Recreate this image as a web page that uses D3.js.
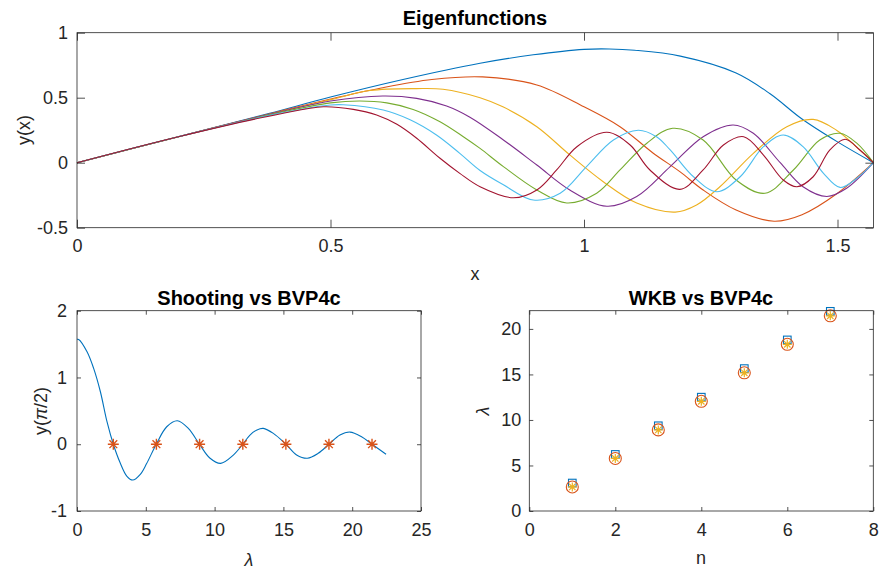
<!DOCTYPE html>
<html>
<head>
<meta charset="utf-8">
<script src="https://cdn.jsdelivr.net/npm/d3@7"></script>
<style>
  body { margin: 0; background: #fff; }
  text { font-family: "Liberation Sans", Arial, Helvetica, sans-serif; fill: #262626; }
</style>
</head>
<body>
<div id="svgBody"></div>
<script>
// eigenfunctions y(x) as [x, y]
var mode1 = [[0,0],[0.2,0.2],[0.38,0.38],[0.5,0.505],[0.643,0.64],[0.795,0.765],[0.9,0.83],[1.0,0.872],[1.05,0.875],[1.1,0.865],[1.19,0.82],[1.3,0.69],[1.367,0.53],[1.43,0.336],[1.5,0.16],[1.5708,0]];
var mode2 = [[0,0],[0.2,0.2],[0.4,0.395],[0.5,0.49],[0.6,0.575],[0.7,0.64],[0.8,0.66],[0.907,0.598],[1.0,0.43],[1.071,0.277],[1.136,0.075],[1.189,-0.069],[1.235,-0.21],[1.3,-0.364],[1.375,-0.45],[1.43,-0.4],[1.5,-0.235],[1.5708,0]];
var mode3 = [[0,0],[0.2,0.2],[0.4,0.39],[0.5,0.485],[0.578,0.555],[0.67,0.57],[0.722,0.565],[0.795,0.5],[0.84,0.43],[0.907,0.277],[0.972,0.06],[1.038,-0.146],[1.104,-0.31],[1.18,-0.38],[1.222,-0.325],[1.268,-0.185],[1.334,0.072],[1.4,0.277],[1.452,0.333],[1.498,0.25],[1.538,0.12],[1.5708,0]];
var mode4 = [[0,0],[0.2,0.2],[0.4,0.39],[0.5,0.475],[0.603,0.513],[0.67,0.495],[0.729,0.436],[0.775,0.35],[0.841,0.175],[0.907,-0.018],[0.972,-0.21],[1.045,-0.335],[1.104,-0.26],[1.17,-0.03],[1.235,0.2],[1.294,0.29],[1.334,0.226],[1.387,0.0],[1.432,-0.185],[1.479,-0.26],[1.518,-0.197],[1.5708,0]];
var mode5 = [[0,0],[0.2,0.2],[0.4,0.385],[0.5,0.46],[0.558,0.475],[0.611,0.46],[0.663,0.41],[0.716,0.315],[0.762,0.2],[0.795,0.11],[0.841,-0.03],[0.907,-0.21],[0.966,-0.31],[1.025,-0.235],[1.071,-0.056],[1.124,0.15],[1.175,0.265],[1.235,0.175],[1.3,-0.133],[1.357,-0.235],[1.413,-0.056],[1.465,0.175],[1.505,0.226],[1.538,0.15],[1.5708,0]];
var mode6 = [[0,0],[0.2,0.2],[0.4,0.38],[0.5,0.444],[0.525,0.446],[0.604,0.405],[0.657,0.33],[0.709,0.213],[0.755,0.072],[0.795,-0.06],[0.841,-0.17],[0.9,-0.287],[0.953,-0.235],[1.005,-0.03],[1.058,0.175],[1.107,0.25],[1.143,0.2],[1.17,0.098],[1.216,-0.108],[1.262,-0.223],[1.308,-0.108],[1.354,0.123],[1.393,0.213],[1.432,0.123],[1.472,-0.08],[1.505,-0.19],[1.538,-0.12],[1.5708,0]];
var mode7 = [[0,0],[0.2,0.2],[0.4,0.375],[0.486,0.43],[0.545,0.41],[0.591,0.367],[0.631,0.295],[0.67,0.188],[0.716,0.034],[0.755,-0.082],[0.795,-0.185],[0.861,-0.27],[0.907,-0.21],[0.946,-0.056],[0.986,0.123],[1.045,0.234],[1.091,0.136],[1.13,-0.056],[1.189,-0.205],[1.235,-0.056],[1.275,0.136],[1.315,0.2],[1.354,0.059],[1.393,-0.133],[1.42,-0.185],[1.452,-0.108],[1.485,0.098],[1.515,0.18],[1.544,0.098],[1.5708,0]];

// shooting residual y(pi/2) against lambda
var shooting = [[0,1.571],[0.12,1.57],[0.73,1.385],[1.21,1.136],[1.7,0.786],[2.18,0.337],[2.64,0],[3.12,-0.27],[3.63,-0.48],[4.05,-0.536],[4.6,-0.45],[5.06,-0.29],[5.76,0],[6.52,0.262],[7.29,0.352],[8.09,0.238],[8.9,0],[9.67,-0.21],[10.44,-0.286],[11.36,-0.162],[12.05,0],[12.57,0.138],[13.08,0.215],[13.54,0.237],[14.27,0.162],[15.18,0],[15.96,-0.16],[16.74,-0.21],[17.53,-0.136],[18.31,0],[19.11,0.138],[19.84,0.182],[20.68,0.112],[21.44,0],[22.46,-0.151]];

// eigenvalues
var nVals = [1, 2, 3, 4, 5, 6, 7];
var lamBVP = [2.64, 5.77, 8.91, 12.05, 15.18, 18.31, 21.44];
var lamShoot = [2.64, 5.77, 8.91, 12.05, 15.18, 18.31, 21.44];
var lamWKB = [3.07, 6.21, 9.36, 12.5, 15.64, 18.79, 21.93];

var modes = [mode1, mode2, mode3, mode4, mode5, mode6, mode7];
var colors = ["#0072BD", "#D95319", "#EDB120", "#7E2F8E", "#77AC30", "#4DBEEE", "#A2142F"];

var W = 879, H = 569;
var svg = d3.select("#svgBody").append("svg")
    .attr("width", W).attr("height", H);

function fmt(d) { return String(d); }

// draws box, inner ticks on all four sides, labels on bottom/left
function drawAxes(x, y, xt, yt, tl, padX, padY) {
    var r = x.range(), b = y.range();
    var g = svg.append("g");
    g.append("g").attr("transform", "translate(0," + b[0] + ")")
        .call(d3.axisBottom(x).tickValues(xt).tickFormat(fmt).tickSize(-tl).tickSizeOuter(0).tickPadding(padX));
    g.append("g").attr("transform", "translate(0," + b[1] + ")")
        .call(d3.axisTop(x).tickValues(xt).tickFormat("").tickSize(-tl).tickSizeOuter(0));
    g.append("g").attr("transform", "translate(" + r[0] + ",0)")
        .call(d3.axisLeft(y).tickValues(yt).tickFormat(fmt).tickSize(-tl).tickSizeOuter(0).tickPadding(padY));
    g.append("g").attr("transform", "translate(" + r[1] + ",0)")
        .call(d3.axisRight(y).tickValues(yt).tickFormat("").tickSize(-tl).tickSizeOuter(0));
    g.selectAll(".domain").remove();
    g.selectAll(".tick line").attr("stroke", "#262626").attr("stroke-width", 0.8);
    g.selectAll(".tick text").attr("font-size", 18).style("fill", "#262626");
    g.append("rect")
        .attr("x", r[0]).attr("y", b[1])
        .attr("width", r[1] - r[0]).attr("height", b[0] - b[1])
        .attr("fill", "none").attr("stroke", "#262626").attr("stroke-width", 0.8);
    return g;
}

function title(txt, cx, yb) {
    svg.append("text").attr("x", cx).attr("y", yb)
        .attr("text-anchor", "middle").attr("font-size", 20).attr("font-weight", "bold")
        .style("fill", "#000").text(txt);
}

function asteriskPath(r) {
    var d = r * Math.SQRT1_2;
    return "M" + (-r) + ",0L" + r + ",0M0," + (-r) + "L0," + r +
        "M" + (-d) + "," + (-d) + "L" + d + "," + d + "M" + (-d) + "," + d + "L" + d + "," + (-d);
}

// ---- top: eigenfunctions
var x1 = d3.scaleLinear().domain([0, Math.PI / 2]).range([77, 873.4]);
var y1 = d3.scaleLinear().domain([-0.5, 1]).range([227.7, 32.7]);

var line1 = d3.line()
    .x(function(d) { return x1(d[0]); })
    .y(function(d) { return y1(d[1]); })
    .curve(d3.curveCatmullRom.alpha(0.5));

modes.forEach(function(m, i) {
    svg.append("path").datum(m)
        .attr("d", line1)
        .attr("fill", "none")
        .attr("stroke", colors[i])
        .attr("stroke-width", 1.1);
});

drawAxes(x1, y1, [0, 0.5, 1, 1.5], [-0.5, 0, 0.5, 1], 8, 12, 9);
title("Eigenfunctions", 475, 25);
svg.append("text").attr("x", 475).attr("y", 280).attr("text-anchor", "middle")
    .attr("font-size", 18).text("x");
svg.append("text").attr("transform", "translate(30,130) rotate(-90)")
    .attr("text-anchor", "middle").attr("font-size", 18).text("y(x)");

// ---- bottom left: shooting vs bvp4c
var x2 = d3.scaleLinear().domain([0, 25]).range([77, 421]);
var y2 = d3.scaleLinear().domain([-1, 2]).range([511, 310.7]);

var line2 = d3.line()
    .x(function(d) { return x2(d[0]); })
    .y(function(d) { return y2(d[1]); })
    .curve(d3.curveCatmullRom.alpha(0.5));

svg.append("path").datum(shooting)
    .attr("d", line2)
    .attr("fill", "none")
    .attr("stroke", colors[0])
    .attr("stroke-width", 1.1);

svg.append("g").selectAll("path")
    .data(lamShoot).enter().append("path")
    .attr("transform", function(d) { return "translate(" + x2(d) + "," + y2(0) + ")"; })
    .attr("d", asteriskPath(5.5))
    .attr("fill", "none")
    .attr("stroke", colors[1])
    .attr("stroke-width", 1.4);

drawAxes(x2, y2, [0, 5, 10, 15, 20, 25], [-1, 0, 1, 2], 4, 12, 10);
title("Shooting vs BVP4c", 249, 305);
svg.append("text").attr("x", 249).attr("y", 566).attr("text-anchor", "middle")
    .attr("font-size", 18).attr("font-style", "italic").text("λ");
var yl = svg.append("text").attr("transform", "translate(47,411) rotate(-90)")
    .attr("text-anchor", "middle").attr("font-size", 18);
yl.append("tspan").text("y(");
yl.append("tspan").attr("font-style", "italic").text("π");
yl.append("tspan").text("/2)");

// ---- bottom right: WKB vs bvp4c
var x3 = d3.scaleLinear().domain([0, 8]).range([529.3, 873.3]);
var y3 = d3.scaleLinear().domain([0, 22]).range([511, 310.7]);

var pts = svg.append("g");
pts.selectAll("rect")
    .data(nVals).enter().append("rect")
    .attr("x", function(d, i) { return x3(d) - 3.8; })
    .attr("y", function(d, i) { return y3(lamWKB[i]) - 3.8; })
    .attr("width", 7.6).attr("height", 7.6)
    .attr("fill", "none").attr("stroke", colors[0]).attr("stroke-width", 1.1);
pts.selectAll("circle")
    .data(nVals).enter().append("circle")
    .attr("cx", function(d) { return x3(d); })
    .attr("cy", function(d, i) { return y3(lamBVP[i]); })
    .attr("r", 6)
    .attr("fill", "none").attr("stroke", colors[1]).attr("stroke-width", 1.1);
pts.selectAll("path")
    .data(nVals).enter().append("path")
    .attr("transform", function(d, i) { return "translate(" + x3(d) + "," + y3(lamShoot[i]) + ")"; })
    .attr("d", asteriskPath(4.5))
    .attr("fill", "none").attr("stroke", colors[2]).attr("stroke-width", 1.2);

drawAxes(x3, y3, [0, 2, 4, 6, 8], [0, 5, 10, 15, 20], 4, 12, 8);
title("WKB vs BVP4c", 701, 305);
svg.append("text").attr("x", 701).attr("y", 564).attr("text-anchor", "middle")
    .attr("font-size", 18).text("n");
svg.append("text").attr("transform", "translate(489,411) rotate(-90)")
    .attr("text-anchor", "middle").attr("font-size", 18).attr("font-style", "italic").text("λ");
</script>
</body>
</html>
